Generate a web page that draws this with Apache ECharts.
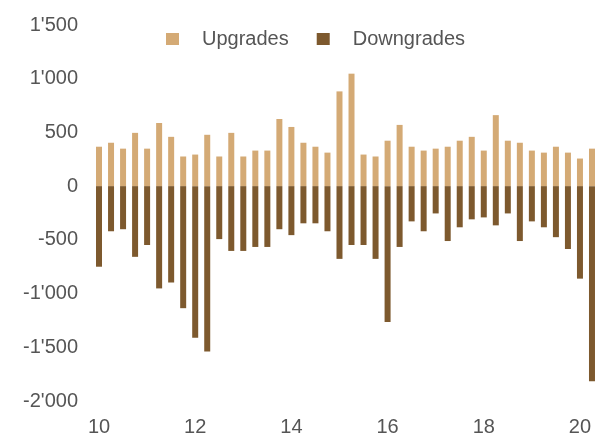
<!DOCTYPE html>
<html>
<head>
<meta charset="utf-8">
<script src="https://cdn.jsdelivr.net/npm/echarts@6/dist/echarts.min.js"></script>
<style>
  html, body { margin: 0; padding: 0; background: #fff; }
  #main { width: 598px; height: 437px; }
</style>
</head>
<body>
<div id="main"></div>
<script>
// quarterly, 2010 Q1 .. 2020 Q2
var quarters = [];
for (var y = 10; y <= 20; y++) {
    for (var q = 1; q <= 4; q++) {
        if (y === 20 && q > 2) break;
        quarters.push(y + ' Q' + q);
    }
}
var tickYears = ['10', '12', '14', '16', '18', '20'];

var upgrades = [
    367, 404, 349, 496, 349, 588, 459, 276,
    294, 478, 276, 496, 276, 331, 331, 625,
    551, 404, 367, 312, 882, 1047, 294, 276,
    423, 570, 367, 331, 349, 367, 423, 459,
    331, 661, 423, 404, 331, 312, 367, 312,
    257, 349
];
var downgrades = [
    -750, -420, -401, -658, -548, -952, -897, -1136,
    -1411, -1540, -493, -603, -603, -566, -566, -401,
    -456, -346, -346, -420, -677, -548, -548, -677,
    -1265, -566, -328, -420, -254, -511, -383, -309,
    -291, -365, -254, -511, -328, -383, -475, -585,
    -861, -1816
];

var chart = echarts.init(document.getElementById('main'));

var fontName = '"Liberation Sans", Arial, Helvetica, sans-serif';

var option = {
    animation: false,
    legend: {
        left: 161,
        top: 24,
        itemWidth: 13,
        itemHeight: 12,
        itemGap: 28,
        icon: 'rect',
        textStyle: {
            fontFamily: fontName,
            fontSize: 20,
            color: '#555',
            padding: [0, 0, 0, 18]
        },
        data: ['Upgrades', 'Downgrades']
    },
    grid: {
        left: 93,
        right: -5,
        top: 25,
        bottom: 34,
        containLabel: false
    },
    xAxis: {
        type: 'category',
        data: quarters,
        axisLine: { show: false },
        axisTick: { show: false },
        axisLabel: {
            fontFamily: fontName,
            fontSize: 20,
            color: '#555',
            margin: 16,
            interval: function (index) { return index % 8 === 0; },
            formatter: function (val, index) {
                return tickYears[index / 8] || '';
            }
        }
    },
    yAxis: {
        type: 'value',
        min: -2000,
        max: 1500,
        interval: 500,
        splitLine: { show: false },
        axisLine: { show: false },
        axisTick: { show: false },
        axisLabel: {
            fontFamily: fontName,
            fontSize: 20,
            color: '#555',
            margin: 15,
            formatter: function (v) {
                return String(v).replace(/\B(?=(\d{3})+(?!\d))/g, "'");
            }
        }
    },
    series: [
        {
            name: 'Upgrades',
            type: 'bar',
            stack: 'total',
            barWidth: 6,
            itemStyle: { color: '#D4AA75' },
            data: upgrades
        },
        {
            name: 'Downgrades',
            type: 'bar',
            stack: 'total',
            barWidth: 6,
            itemStyle: { color: '#7D592E' },
            data: downgrades
        }
    ]
};

chart.setOption(option);
</script>
</body>
</html>
